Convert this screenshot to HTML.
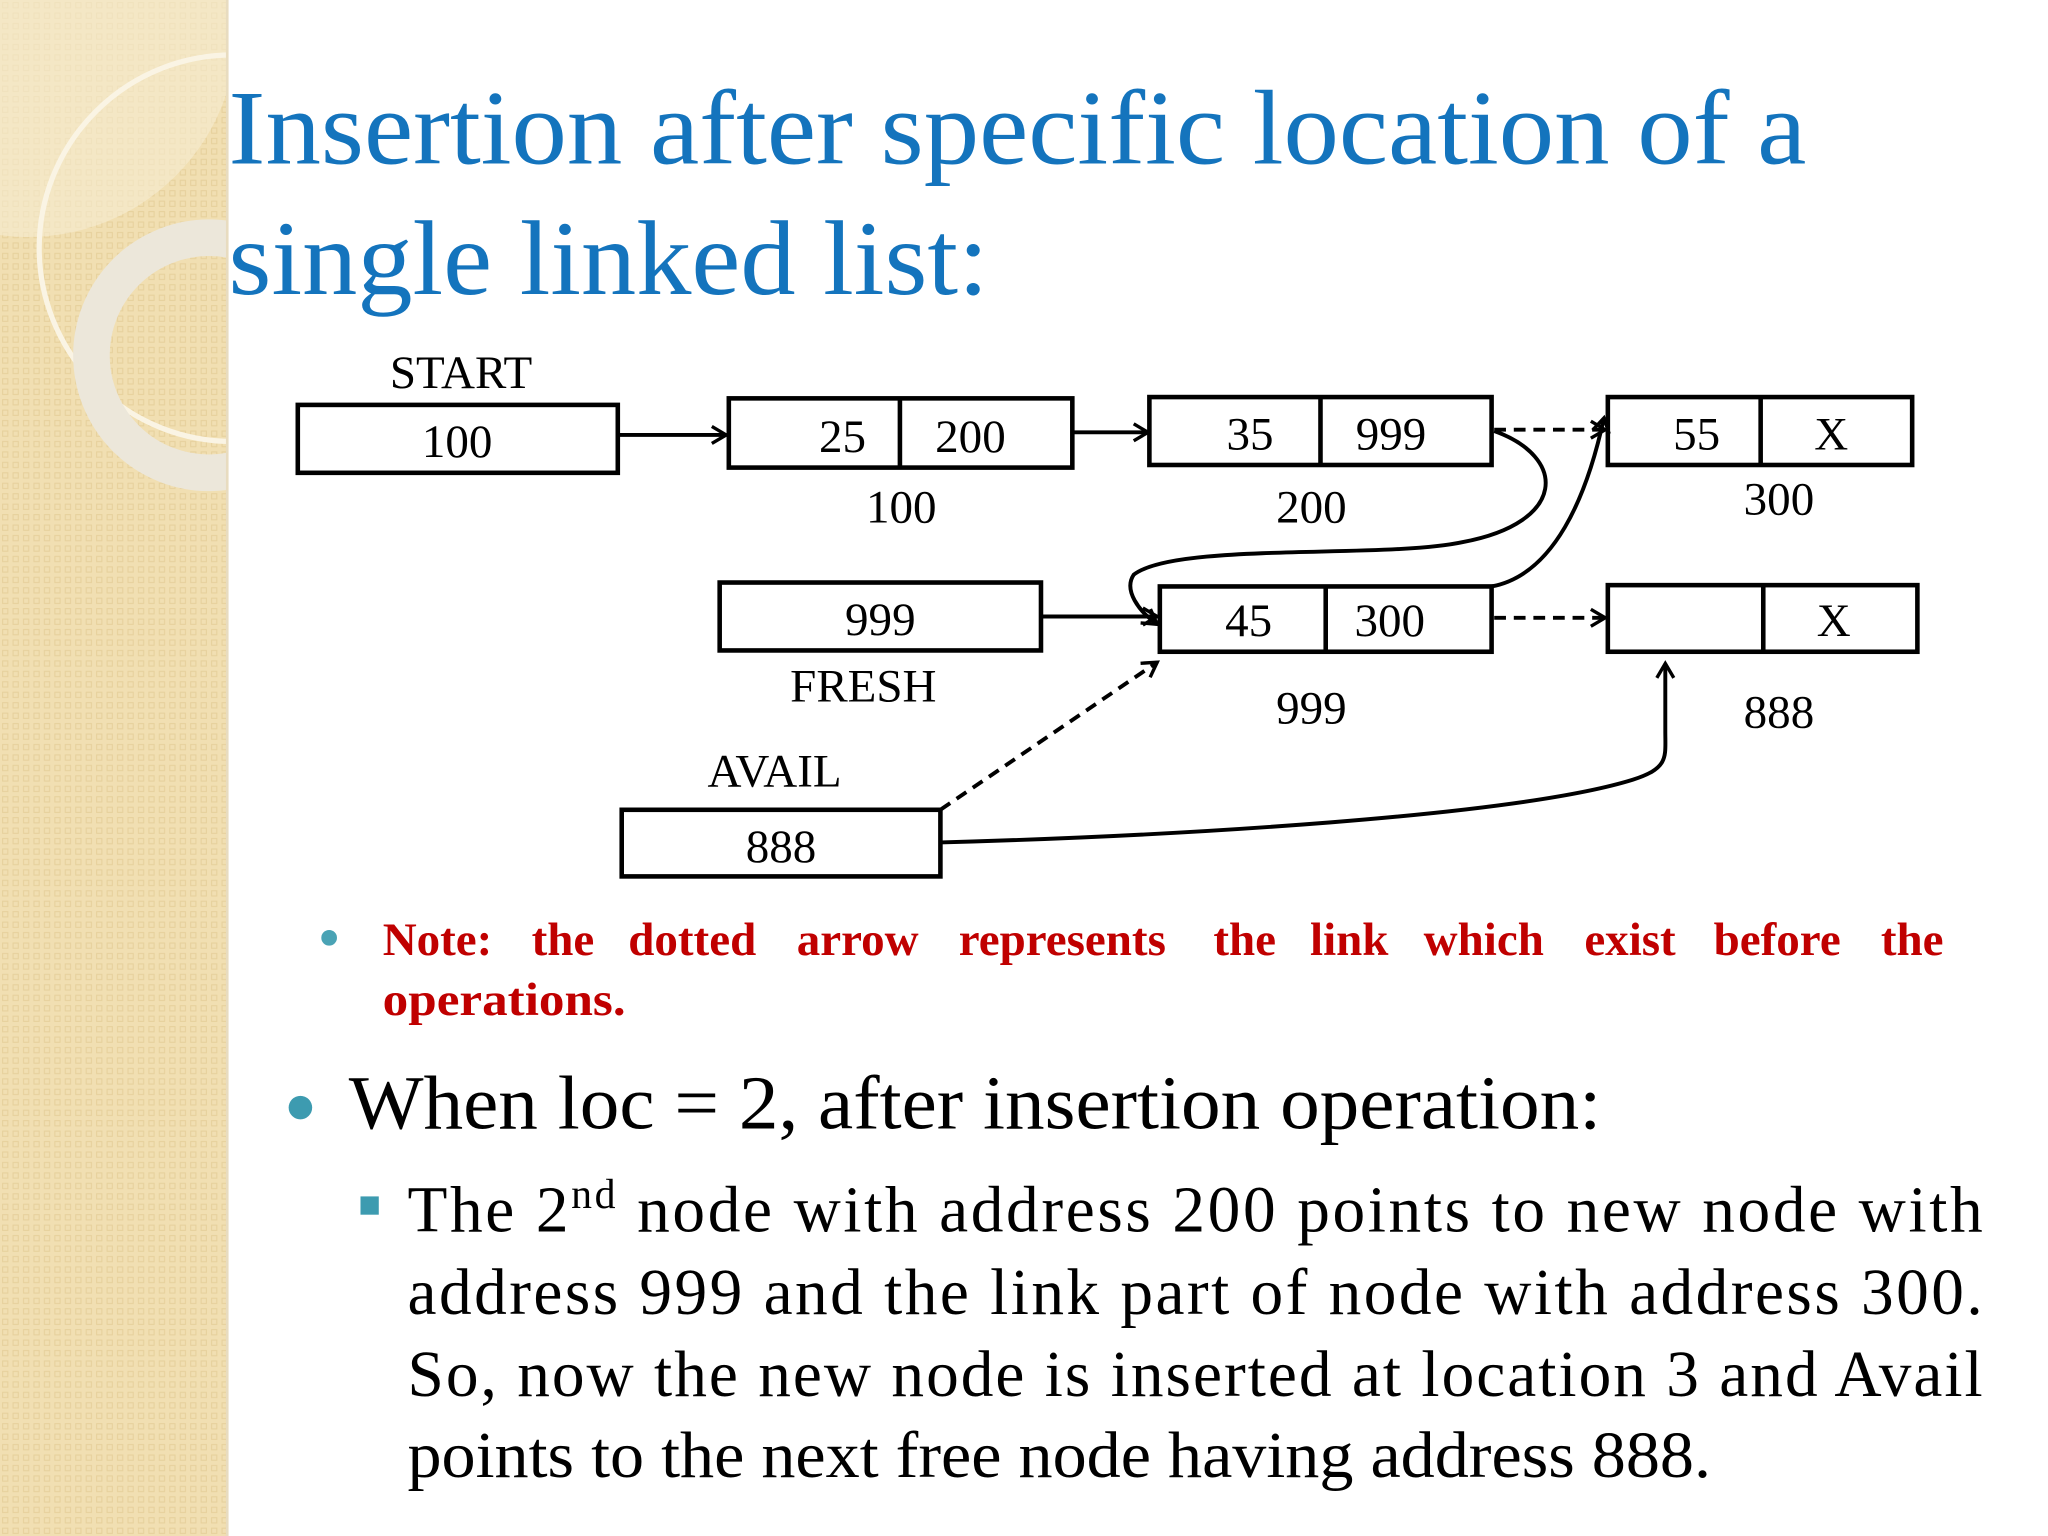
<!DOCTYPE html>
<html><head><meta charset="utf-8"><style>
html,body{margin:0;padding:0;background:#fff;}
svg{display:block}
</style></head><body>
<svg width="2048" height="1536" viewBox="0 0 1568 1176" xmlns="http://www.w3.org/2000/svg" font-family="'Liberation Serif', serif">
<defs>
<pattern id="p" width="8" height="8" patternUnits="userSpaceOnUse">
<rect width="8" height="8" fill="#f1dfb2"/><rect x="2" y="2" width="4" height="4" fill="none" stroke="#e6d09c" stroke-width="0.8"/>
</pattern>
<marker id="a" markerWidth="16" markerHeight="16" refX="13" refY="8" orient="auto" markerUnits="userSpaceOnUse">
<path d="M2,1.5 L13,8 L2,14.5" fill="none" stroke="#000" stroke-width="2.6"/>
</marker>
</defs>
<rect width="1568" height="1176" fill="#fff"/>
<rect x="0" y="0" width="174" height="1176" fill="url(#p)"/>
<path d="M0,0 L180,0 A160,160 0 0 1 0,180 Z" fill="#f6ecd2" opacity="0.6"/>
<circle cx="178" cy="190" r="148" fill="none" stroke="#faf4e4" stroke-width="4"/>
<circle cx="160" cy="272" r="90" fill="none" stroke="#ece7da" stroke-width="28"/>
<rect x="174" y="0" width="1394" height="1176" fill="#fff"/>
<line x1="174" y1="0" x2="174" y2="1176" stroke="#e8dcc0" stroke-width="2"/>

<g fill="#1474bd" font-size="81">
<text x="175" y="125" textLength="1208" lengthAdjust="spacingAndGlyphs">Insertion after specific location of a</text>
<text x="175" y="225" textLength="582" lengthAdjust="spacingAndGlyphs">single linked list:</text>
</g>

<g fill="none" stroke="#000" stroke-width="3.5">
<rect x="228" y="310" width="245" height="52"/>
<rect x="558" y="305" width="263" height="53"/><line x1="689" y1="305" x2="689" y2="358"/>
<rect x="880" y="304" width="262" height="52"/><line x1="1011" y1="304" x2="1011" y2="356"/>
<rect x="1231" y="304" width="233" height="52"/><line x1="1348" y1="304" x2="1348" y2="356"/>
<rect x="551" y="446" width="246" height="52"/>
<rect x="888" y="449" width="254" height="50"/><line x1="1015" y1="449" x2="1015" y2="499"/>
<rect x="1231" y="448" width="237" height="51"/><line x1="1350" y1="448" x2="1350" y2="499"/>
<rect x="476" y="620" width="244" height="51"/>
</g>

<g fill="none" stroke="#000" stroke-width="3">
<line x1="473" y1="333" x2="556" y2="333" marker-end="url(#a)"/>
<line x1="821" y1="331" x2="879" y2="331" marker-end="url(#a)"/>
<line x1="1144" y1="329" x2="1229" y2="329" stroke-dasharray="9,6" marker-end="url(#a)"/>
<path d="M1144,330 C1200,350 1200,400 1120,415 C1060,428 900,415 868,440 C860,452 872,468 886,478" marker-end="url(#a)"/>
<path d="M1142,449 C1190,440 1215,380 1228,320" marker-end="url(#a)"/>
<line x1="797" y1="472" x2="886" y2="472" marker-end="url(#a)"/>
<line x1="1144" y1="473" x2="1229" y2="473" stroke-dasharray="9,6" marker-end="url(#a)"/>
<line x1="720" y1="620" x2="886" y2="507" stroke-dasharray="9,6" marker-end="url(#a)"/>
<path d="M720,645 C900,640 1160,625 1250,597 C1278,588 1275,580 1275,560 L1275,508" marker-end="url(#a)"/>
</g>

<g fill="#000" font-size="36" text-anchor="middle">
<text x="353" y="297">START</text>
<text x="350" y="350">100</text>
<text x="645" y="346">25</text><text x="743" y="346">200</text><text x="690" y="400">100</text>
<text x="957" y="344">35</text><text x="1065" y="344">999</text><text x="1004" y="400">200</text>
<text x="1299" y="344">55</text><text x="1402" y="344">X</text><text x="1362" y="394">300</text>
<text x="674" y="486">999</text><text x="661" y="537">FRESH</text>
<text x="956" y="487">45</text><text x="1064" y="487">300</text><text x="1004" y="554">999</text>
<text x="1404" y="487">X</text><text x="1362" y="557">888</text>
<text x="593" y="602">AVAIL</text><text x="598" y="660">888</text>
</g>

<circle cx="252" cy="718" r="6" fill="#4aa3b5"/>
<g fill="#c00000" font-size="36" font-weight="bold">
<text x="293" y="731">Note:</text>
<text x="407" y="731">the</text>
<text x="481" y="731">dotted</text>
<text x="610" y="731">arrow</text>
<text x="734" y="731">represents</text>
<text x="929" y="731">the</text>
<text x="1003" y="731">link</text>
<text x="1090" y="731">which</text>
<text x="1213" y="731">exist</text>
<text x="1312" y="731">before</text>
<text x="1440" y="731">the</text>
<text x="293" y="777" textLength="186" lengthAdjust="spacingAndGlyphs">operations.</text>
</g>

<circle cx="230" cy="848" r="9" fill="#3d9bb0"/>
<text x="267" y="864" font-size="58" fill="#000" textLength="959" lengthAdjust="spacingAndGlyphs">When loc = 2, after insertion operation:</text>

<rect x="276" y="916" width="14" height="14" fill="#3d9bb0"/>
<g fill="#000" font-size="50">
<text x="312" y="943" textLength="1206" lengthAdjust="spacing">The 2<tspan font-size="32" dy="-18">nd</tspan><tspan dy="18"> node with address 200 points to new node with</tspan></text>
<text x="312" y="1006" textLength="1206" lengthAdjust="spacing">address 999 and the link part of node with address 300.</text>
<text x="312" y="1069" textLength="1206" lengthAdjust="spacing">So, now the new node is inserted at location 3 and Avail</text>
<text x="312" y="1131" textLength="998" lengthAdjust="spacingAndGlyphs">points to the next free node having address 888.</text>
</g>
</svg>
</body></html>
